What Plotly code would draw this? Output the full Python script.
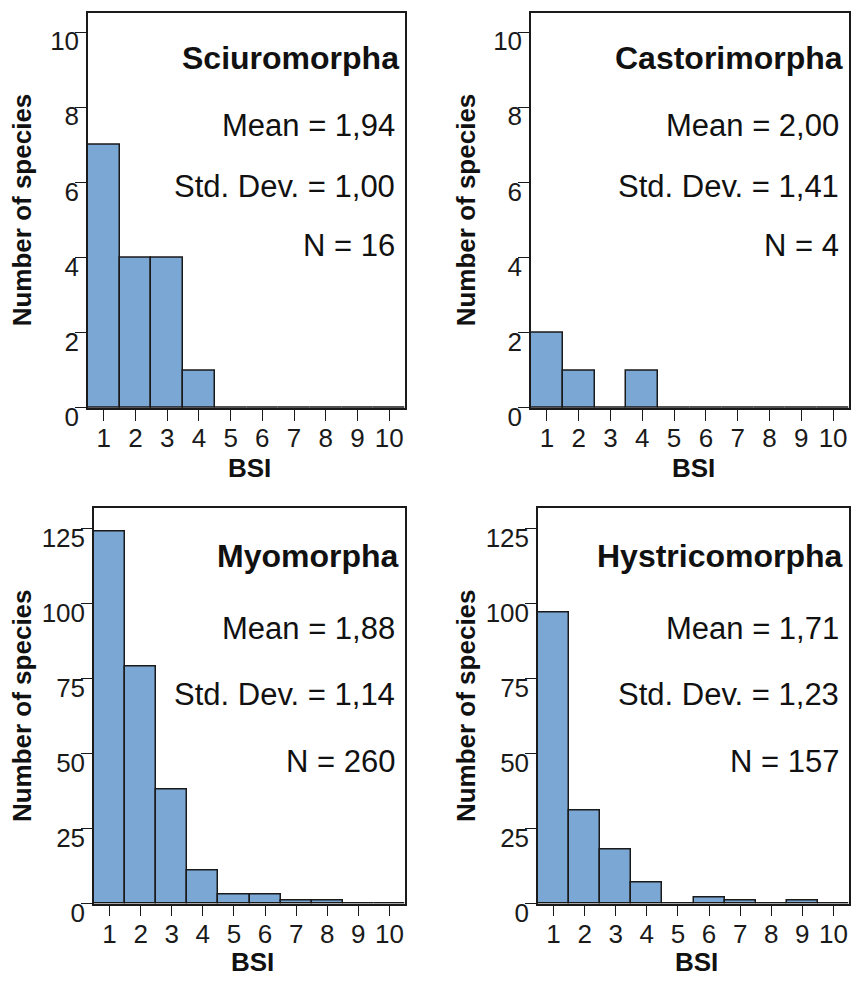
import plotly.graph_objects as go

bsi = [1, 2, 3, 4, 5, 6, 7, 8, 9, 10]
groups = ["Sciuromorpha", "Castorimorpha", "Myomorpha", "Hystricomorpha"]
counts_sciuro = [7, 4, 4, 1, 0, 0, 0, 0, 0, 0]
counts_castor = [2, 1, 0, 1, 0, 0, 0, 0, 0, 0]
counts_myo = [124, 79, 38, 11, 3, 3, 1, 1, 0, 0]
counts_hystri = [97, 31, 18, 7, 0, 2, 1, 0, 1, 0]
means = ["1,94", "2,00", "1,88", "1,71"]
sds = ["1,00", "1,41", "1,14", "1,23"]
ns = ["16", "4", "260", "157"]
ytick_top = [0, 2, 4, 6, 8, 10]
ytick_bottom = [0, 25, 50, 75, 100, 125]

W, H = 852, 998
FONT = "Liberation Sans, Arial, sans-serif"
BAR = "#7BA7D4"

# pixel boxes of plot areas: (left, right, top, bottom)
boxes = [(88, 405, 13, 418), (531, 849, 13, 418), (94, 405, 521, 926), (538, 849, 521, 926)]
all_counts = [counts_sciuro, counts_castor, counts_myo, counts_hystri]
yranges = [[0, 10.52], [0, 10.52], [0, 131.8], [0, 131.8]]
yticks = [ytick_top, ytick_top, ytick_bottom, ytick_bottom]

fig = go.Figure()
annotations = []
for i in range(4):
    l, r, t, b = boxes[i]
    sx = "" if i == 0 else str(i + 1)
    fig.add_trace(go.Bar(
        x=bsi, y=all_counts[i], width=1,
        marker=dict(color=BAR, line=dict(color="#1a1a1a", width=1.5)),
        xaxis="x" + sx, yaxis="y" + sx, showlegend=False, hoverinfo="skip"))
    common = dict(showline=True, mirror=True, linecolor="#1a1a1a", linewidth=1.5,
                  ticks="outside", ticklen=11, tickwidth=1.3, tickcolor="#1a1a1a",
                  showgrid=False, zeroline=False,
                  tickfont=dict(family=FONT, size=26, color="#1a1a1a"))
    fig.update_layout(**{
        "xaxis" + sx: dict(domain=[l / W, r / W], range=[0.5, 10.5], tickvals=bsi,
                           anchor="y" + sx, ticklabelstandoff=-5, **common),
        "yaxis" + sx: dict(domain=[1 - b / H, 1 - t / H], range=yranges[i],
                           tickvals=yticks[i], anchor="x" + sx,
                           ticklabelshift=9, ticklabelstandoff=-9, **common),
    })
    top_panel = i < 2
    if top_panel:
        ys = [57, 127, 189, 250]
    else:
        ys = [568, 642, 710, 778]
    texts = [groups[i], "Mean = " + means[i], "Std. Dev. = " + sds[i], "N = " + ns[i]]
    for k, (txt, ypx) in enumerate(zip(texts, ys)):
        annotations.append(dict(
            text=("<b>%s</b>" % txt) if k == 0 else txt,
            xref="paper", yref="paper",
            x=(r - (4 if k == 0 else 8)) / W, y=1 - (ypx + 2) / H,
            xanchor="right", yanchor="middle", showarrow=False,
            font=dict(family=FONT, size=32 if k == 0 else 31, color="#111")))
    # axis titles
    ylab_x = 22 if i % 2 == 0 else 466
    annotations.append(dict(text="<b>Number of species</b>", textangle=-90,
                            xref="paper", yref="paper", x=ylab_x / W, y=1 - ((t + b) / 2) / H,
                            xanchor="center", yanchor="middle", showarrow=False,
                            font=dict(family=FONT, size=26, color="#111")))
    bsi_y = 480 if top_panel else 986
    annotations.append(dict(text="<b>BSI</b>", xref="paper", yref="paper",
                            x=((l + r) / 2 + 3) / W, y=1 - bsi_y / H,
                            xanchor="center", yanchor="middle", showarrow=False,
                            font=dict(family=FONT, size=26, color="#111")))

fig.update_layout(width=W, height=H, margin=dict(l=0, r=0, t=0, b=0),
                  paper_bgcolor="white", plot_bgcolor="white",
                  bargap=0, annotations=annotations)
fig.write_html("out.html",
               config=dict(displayModeBar=False, responsive=False),
               post_script="document.body.style.margin='0px';")
